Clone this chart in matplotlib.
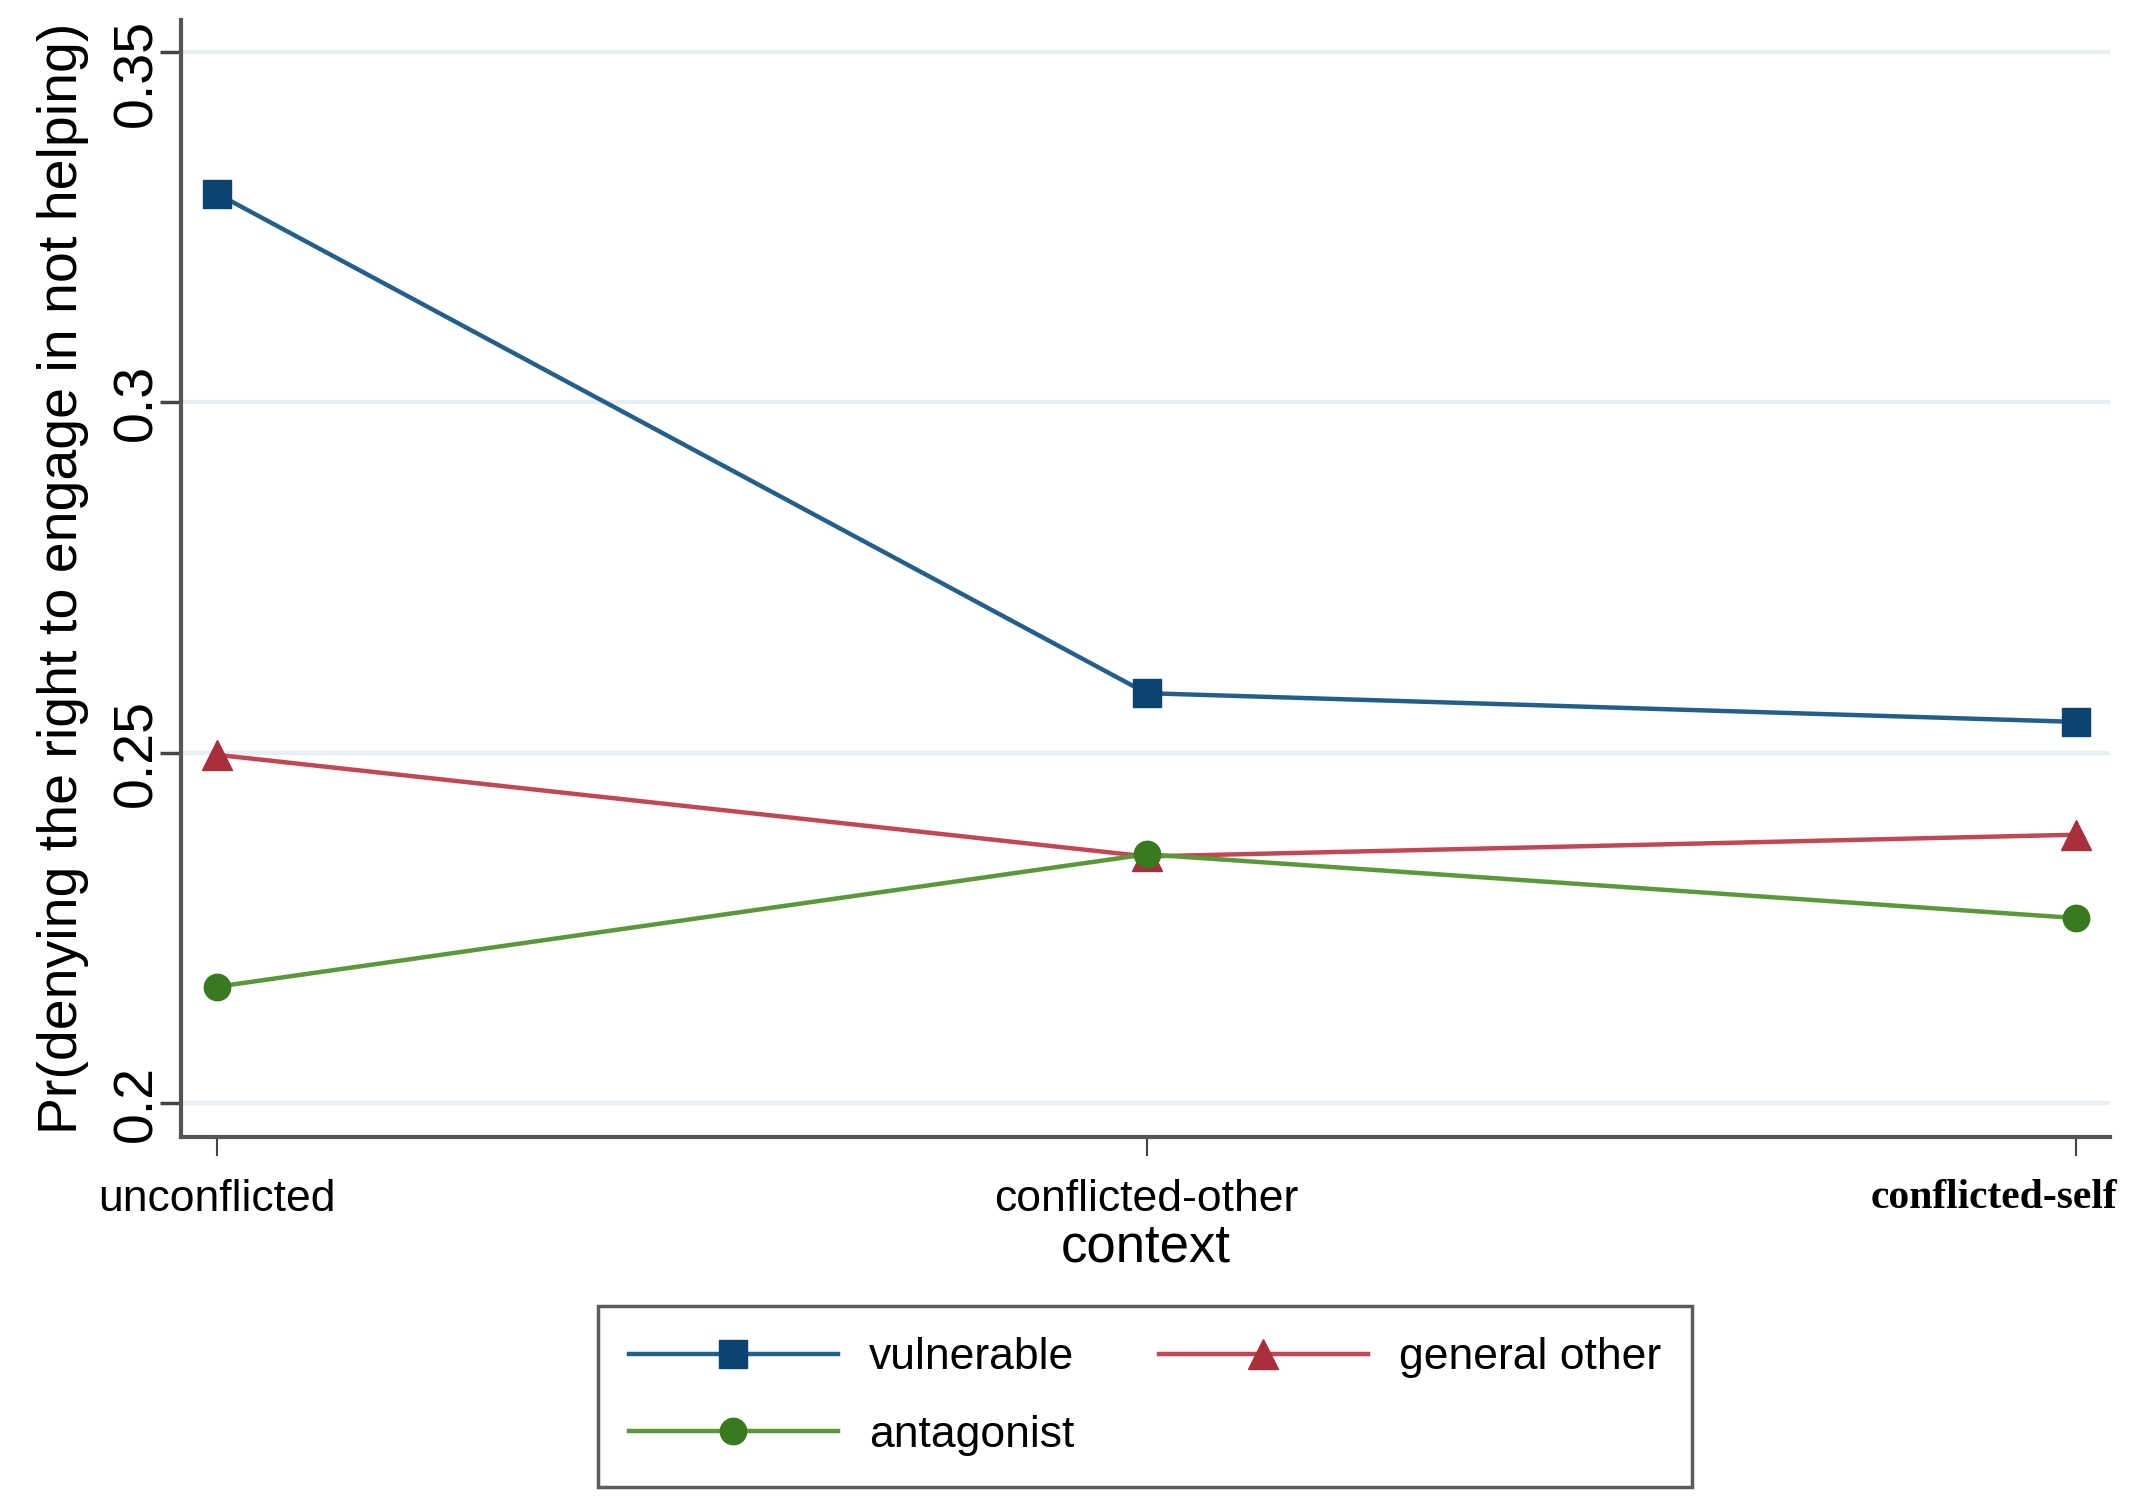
import matplotlib.pyplot as plt
from matplotlib.transforms import ScaledTranslation

# data
contexts = ['unconflicted', 'conflicted-other', 'conflicted-self']
vulnerable = [0.3298, 0.2585, 0.2544]
general_other = [0.2497, 0.2352, 0.2383]
antagonist = [0.2166, 0.2355, 0.2264]
yticks = [0.2, 0.25, 0.3, 0.35]
ytick_labels = ['0.2', '0.25', '0.3', '0.35']

plt.rcParams['font.family'] = ['Liberation Sans', 'DejaVu Sans']

fig = plt.figure(figsize=(21.49, 15.07), dpi=100)
ax = fig.add_axes([0.0842, 0.2455, 0.8977, 0.7412])

x = list(range(len(contexts)))
h1, = ax.plot(x, vulnerable, color='#245f8c', lw=3.2, marker='s', ms=20,
              mfc='#0b4471', mec='#0b4471', label='vulnerable')
h2, = ax.plot(x, general_other, color='#c24755', lw=3.2, marker='^', ms=21,
              mfc='#a82f3c', mec='#a82f3c', label='general other')
h3, = ax.plot(x, antagonist, color='#5a983a', lw=3.2, marker='o', ms=19,
              mfc='#3a7a1f', mec='#3a7a1f', label='antagonist')

ax.set_xlim(-0.0387, 2.0366)
ax.set_ylim(0.19515, 0.35457)

ax.set_yticks(yticks)
ax.set_yticklabels(ytick_labels, rotation=90, va='center')
ax.set_xticks(x)
ax.set_xticklabels(contexts)

ax.yaxis.grid(True, color='#e6f0f2', lw=3)
ax.set_axisbelow(True)

for s in ['top', 'right']:
    ax.spines[s].set_visible(False)
for s in ['left', 'bottom']:
    ax.spines[s].set_color('#555555')
    ax.spines[s].set_linewidth(3)

ax.tick_params(axis='x', length=14, width=1.5, color='#444444', pad=16, labelsize=32)
ax.tick_params(axis='y', length=15, width=2.5, color='#444444', pad=-2, labelsize=40)

# last x label is bold serif and pulled inside the figure
lab = ax.xaxis.get_major_ticks()[2].label1
lab.set_fontfamily('Liberation Serif')
lab.set_fontweight('bold')
lab.set_fontsize(30)
lab.set_horizontalalignment('right')
lab.set_transform(lab.get_transform() + ScaledTranslation(0.41, 0, fig.dpi_scale_trans))

# top y label pushed down to stay inside
ylab = ax.yaxis.get_major_ticks()[3].label1
ylab.set_transform(ylab.get_transform() + ScaledTranslation(0, -0.21, fig.dpi_scale_trans))

ax.set_ylabel('Pr(denying the right to engage in not helping)', fontsize=40, labelpad=16)
ax.set_xlabel('context', fontsize=38, labelpad=2)

leg = fig.legend([h1, h3, h2], ['vulnerable', 'antagonist', 'general other'],
                 loc='upper center', bbox_to_anchor=(0.5328, 0.1334), ncol=2,
                 fontsize=32, handlelength=4.7, handletextpad=0.7,
                 columnspacing=1.9, labelspacing=0.82, borderpad=0.7,
                 borderaxespad=0, frameon=True, fancybox=False,
                 edgecolor='#333333')
leg.get_frame().set_linewidth(2.5)

fig.savefig('out.png', dpi=100)
